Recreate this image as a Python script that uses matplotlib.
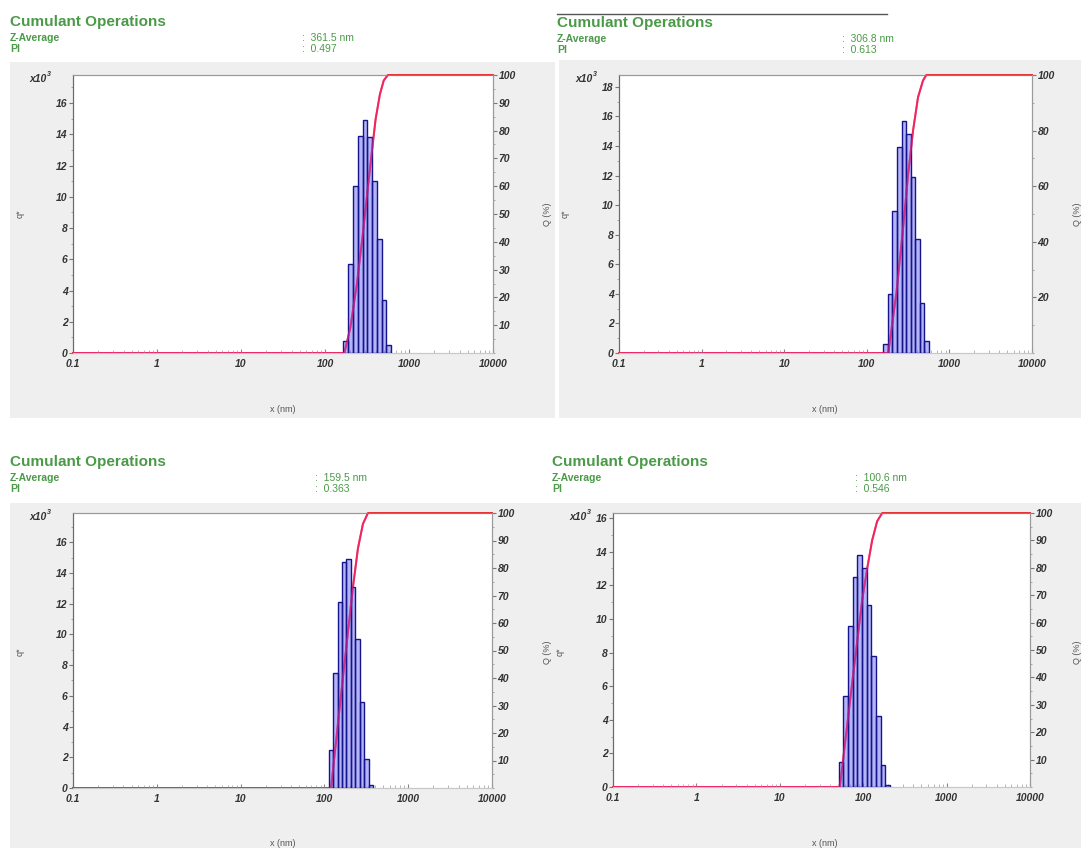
import numpy as np
import matplotlib
matplotlib.use("Agg")
import matplotlib.pyplot as plt
from matplotlib.patches import Rectangle
from matplotlib.ticker import NullFormatter, MultipleLocator

# ---- data ----
titles = ["Cumulant Operations"] * 4
z_average = ["361.5 nm", "306.8 nm", "159.5 nm", "100.6 nm"]
pi_values = ["0.497", "0.613", "0.363", "0.546"]

# histogram bin edges (nm) and bar heights (x10^3)
tl_edges = [166, 189, 216, 246, 280, 319, 364, 415, 472, 538, 614]
tl_heights = [0.8, 5.7, 10.7, 13.9, 14.9, 13.8, 11.0, 7.3, 3.4, 0.5]
tr_edges = [158, 180, 204, 232, 264, 299, 340, 386, 438, 498, 565]
tr_heights = [0.6, 4.0, 9.6, 13.9, 15.7, 14.8, 11.9, 7.7, 3.4, 0.8]
bl_edges = [113, 127, 144, 162, 183, 207, 234, 264, 298, 336, 380]
bl_heights = [2.5, 7.5, 12.1, 14.7, 14.9, 13.1, 9.7, 5.6, 1.9, 0.2]
br_edges = [51, 58, 66, 75, 85, 97, 110, 125, 142, 162, 184, 209]
br_heights = [1.5, 5.4, 9.6, 12.5, 13.8, 13.0, 10.8, 7.8, 4.2, 1.3, 0.1]

# cumulative curve Q (%)
tl_cum_x = [0.1, 170, 200, 240, 280, 320, 360, 400, 450, 500, 560, 10000]
tl_cum_q = [0, 0, 9, 25, 42, 58, 72, 84, 93, 98, 100, 100]
tr_cum_x = [0.1, 182, 229, 275, 316, 363, 417, 479, 525, 10000]
tr_cum_q = [0, 0, 22, 45, 64, 80, 92, 98, 100, 100]
bl_cum_x = [0.1, 120, 162, 219, 251, 288, 331, 10000]
bl_cum_q = [0, 0, 37, 73, 87, 96, 100, 100]
br_cum_x = [0.1, 52.5, 70.5, 97, 112, 128, 147, 169, 10000]
br_cum_q = [0, 0, 33, 68, 80, 90, 97, 100, 100]

x_ticks = [0.1, 1, 10, 100, 1000, 10000]
x_ticklabels = ["0.1", "1", "10", "100", "1000", "10000"]

W, H = 1081, 848
plt.rcParams['font.family'] = ['Liberation Sans', 'DejaVu Sans']
fig = plt.figure(figsize=(W / 100, H / 100), dpi=100)
fig.patch.set_facecolor('white')

GREEN = '#4a9a48'
GREY_BG = '#efefef'
TXT = '#333333'


def frac(x0, y0, x1, y1):
    return [x0 / W, 1 - y1 / H, (x1 - x0) / W, (y1 - y0) / H]


def panel_bg(x0, y0, x1, y1):
    fig.patches.append(Rectangle((x0 / W, 1 - y1 / H), (x1 - x0) / W, (y1 - y0) / H,
                                 transform=fig.transFigure, facecolor=GREY_BG,
                                 edgecolor='none', zorder=-5))


def header(x, y, title, zavg, pi, colon_x):
    fig.text(x / W, 1 - y / H, title, color=GREEN, fontsize=11, fontweight='bold', va='center')
    fig.text(x / W, 1 - (y + 16) / H, "Z-Average", color=GREEN, fontsize=7.5,
             fontweight='bold', va='center')
    fig.text(x / W, 1 - (y + 27) / H, "PI", color=GREEN, fontsize=7.5,
             fontweight='bold', va='center')
    fig.text(colon_x / W, 1 - (y + 16) / H, ":  " + zavg, color=GREEN, fontsize=7.5, va='center')
    fig.text(colon_x / W, 1 - (y + 27) / H, ":  " + pi, color=GREEN, fontsize=7.5, va='center')


def draw(box, edges, heights, cum_x, cum_q, ymax, q_major):
    ax2 = fig.add_axes(frac(*box))
    ax = fig.add_axes(frac(*box), sharex=ax2)
    ax2.set_zorder(1)
    ax.set_zorder(2)
    ax.patch.set_visible(False)
    ax2.set_facecolor('white')

    # cumulative curve underneath the translucent bars
    ax2.plot(cum_x, cum_q, color='#ee2a2a', lw=1.4, zorder=3, clip_on=False)
    ax2.set_ylim(0, 100)
    ax2.yaxis.tick_right()
    qt = np.arange(q_major, 100.1, q_major)
    ax2.set_yticks(qt)
    ax2.set_yticklabels([f"{int(v)}" for v in qt])
    ax2.yaxis.set_minor_locator(MultipleLocator(q_major / 2))

    edges = np.array(edges, dtype=float)
    ax.bar(edges[:-1], heights, width=np.diff(edges), align='edge',
           facecolor='#6a6af0', alpha=0.5, edgecolor='none', zorder=2)
    ax.bar(edges[:-1], heights, width=np.diff(edges), align='edge',
           facecolor='none', edgecolor='#14148c', lw=1.0, zorder=4)
    # curve again, translucent, so it reads purple where it crosses the bars
    ax.plot(cum_x, np.array(cum_q) * ymax / 100, color='#f0208a', lw=1.4,
            alpha=0.6, zorder=5)

    ax.set_xscale('log')
    ax.set_xlim(0.1, 10000)
    ax.set_ylim(0, ymax)
    ax.set_xticks(x_ticks)
    ax.set_xticklabels(x_ticklabels)
    ax.xaxis.set_minor_formatter(NullFormatter())
    ax.yaxis.set_major_locator(MultipleLocator(2))
    ax.yaxis.set_minor_locator(MultipleLocator(1))
    ax2.xaxis.set_visible(False)

    for a in (ax, ax2):
        for s in a.spines.values():
            s.set_color('#9a9a9a')
            s.set_linewidth(0.8)
        a.spines['left'].set_color('#6a6a6a')
        a.spines['bottom'].set_color('#c8c8c8')

    lab = dict(fontsize=7.5, fontstyle='italic', fontweight='bold', color=TXT)
    ax.tick_params(axis='y', which='major', length=3, direction='out', color='#777777', pad=1)
    ax.tick_params(axis='y', which='minor', length=1.5, direction='out', color='#999999')
    ax.tick_params(axis='x', which='major', length=3, direction='in', color='#888888', pad=4)
    ax.tick_params(axis='x', which='minor', length=2, direction='in', color='#aaaaaa')
    ax2.tick_params(axis='y', which='major', length=3, direction='out', color='#777777', pad=1)
    ax2.tick_params(axis='y', which='minor', length=1.5, direction='out', color='#999999')
    for t in ax.get_xticklabels() + ax.get_yticklabels() + ax2.get_yticklabels():
        t.set(**lab)

    # "x10^3" multiplier, placed in pixels left of the axis top
    x0, y0 = box[0], box[1]
    fig.text((x0 - 26) / W, 1 - (y0 + 4) / H, "x10", ha='right', va='center', **lab)
    fig.text((x0 - 26) / W, 1 - (y0 - 1) / H, "3", ha='left', va='center',
             fontsize=5, fontstyle='italic', fontweight='bold', color=TXT)
    return ax, ax2


# grey panel backgrounds
panel_bg(10, 62, 555, 418)
panel_bg(559, 60, 1081, 418)
panel_bg(10, 503, 555, 848)
panel_bg(552, 503, 1081, 848)

# thin line above the top-right header
fig.add_artist(plt.Line2D([557 / W, 887 / W], [1 - 14 / H, 1 - 14 / H],
                          transform=fig.transFigure, color='#555555', lw=1))

header(10, 22, titles[0], z_average[0], pi_values[0], 302)
header(557, 23, titles[1], z_average[1], pi_values[1], 842)
header(10, 462, titles[2], z_average[2], pi_values[2], 315)
header(552, 462, titles[3], z_average[3], pi_values[3], 855)

draw((73, 75, 493, 353), tl_edges, tl_heights, tl_cum_x, tl_cum_q, 17.8, 10)
draw((619, 75, 1032, 353), tr_edges, tr_heights, tr_cum_x, tr_cum_q, 18.8, 20)
draw((73, 513, 492, 788), bl_edges, bl_heights, bl_cum_x, bl_cum_q, 17.9, 10)
draw((613, 513, 1030, 787), br_edges, br_heights, br_cum_x, br_cum_q, 16.3, 10)

# axis titles
small = dict(fontsize=6.5, color='#555555')
for (x, y) in [(283, 410), (825, 410), (283, 843), (825, 843)]:
    fig.text(x / W, 1 - y / H, "x (nm)", ha='center', va='center', **small)
for (x, y) in [(20, 214), (565, 214), (20, 652), (560, 652)]:
    fig.text(x / W, 1 - y / H, "q*", ha='center', va='center', rotation=90, **small)
for (x, y) in [(547, 214), (1077, 214), (547, 652), (1077, 652)]:
    fig.text(x / W, 1 - y / H, "Q (%)", ha='center', va='center', rotation=90, **small)

fig.savefig("out.png", dpi=100)
